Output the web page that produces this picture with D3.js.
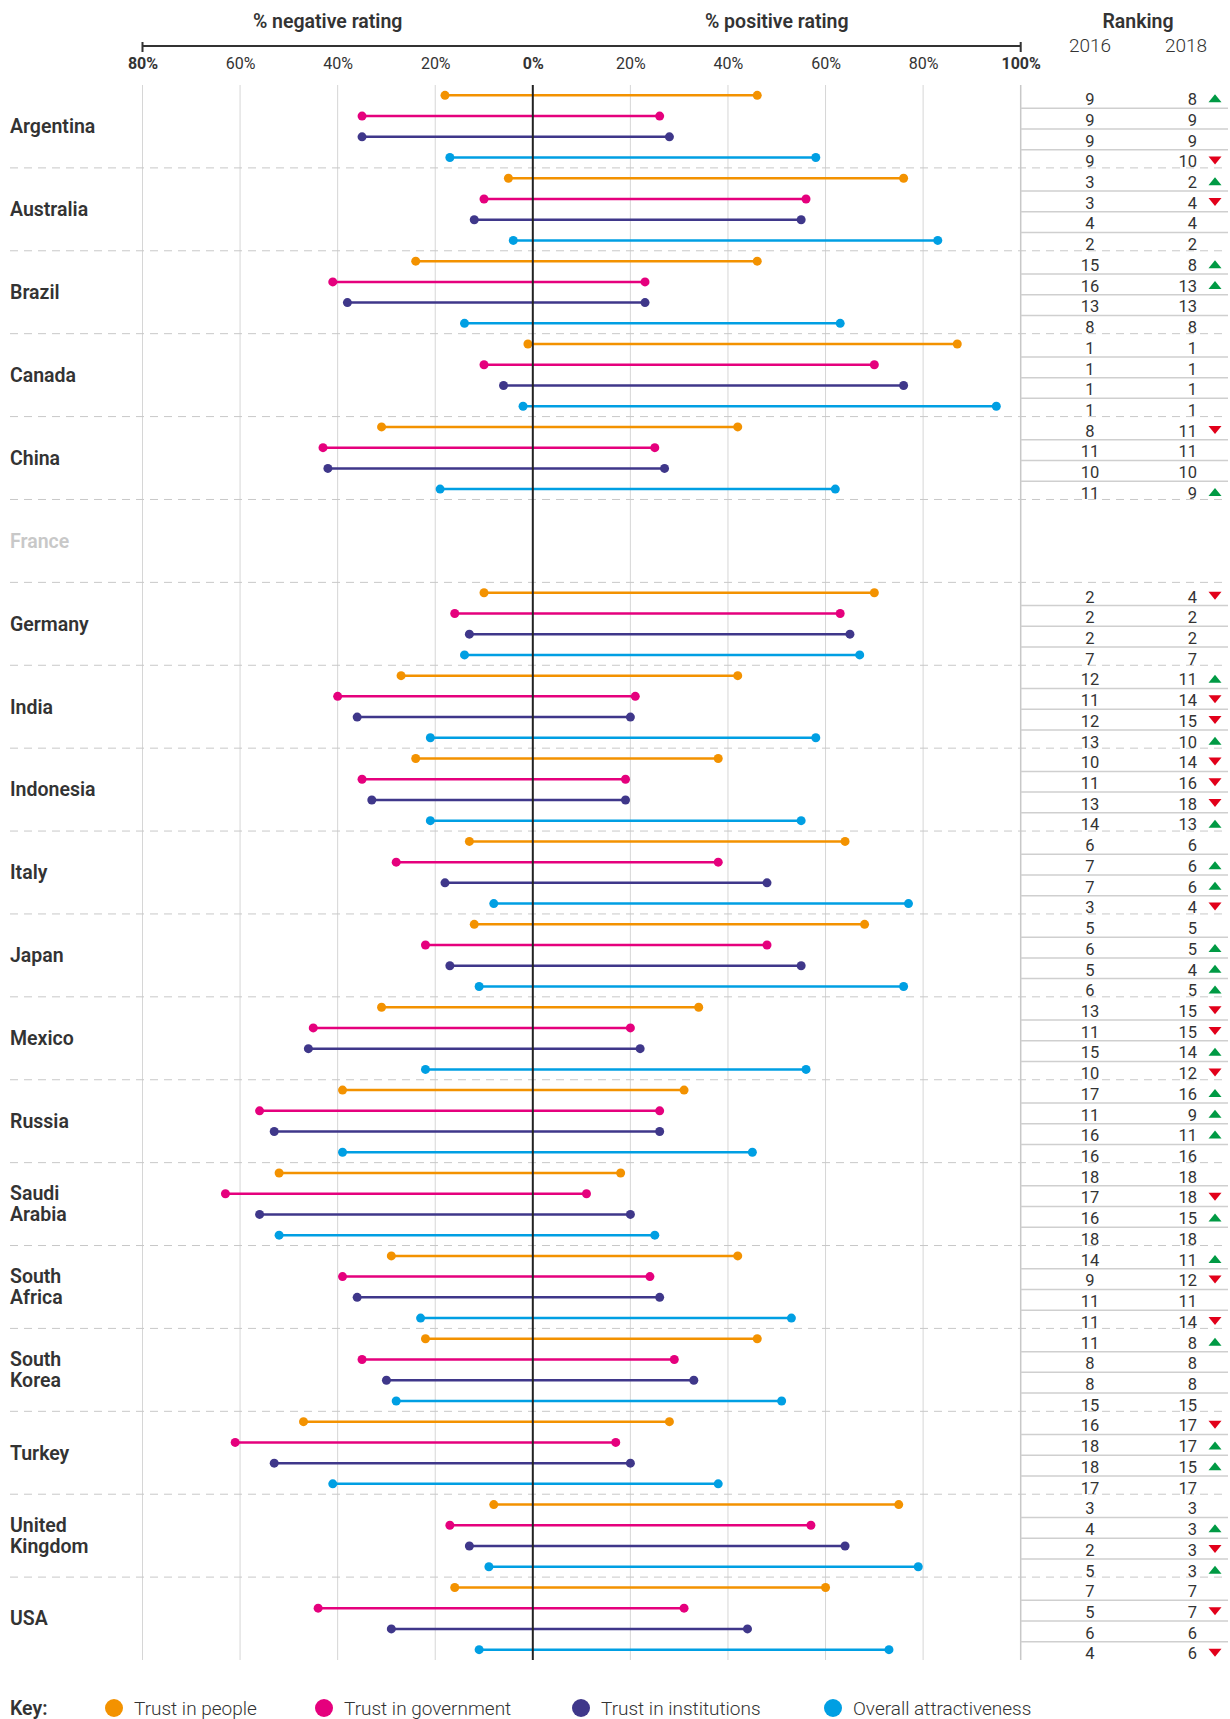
<!DOCTYPE html>
<meta charset="utf-8">
<style>

body {
  margin: 0;
  background: #fff;
}

text {
  font-family: Roboto, "Noto Sans", sans-serif;
  fill: #333;
}

.grid line {
  stroke: #d6d6d6;
}

.sep {
  stroke: #c8c8c8;
  stroke-dasharray: 8,6;
}

</style>
<body>
<script src="https://cdn.jsdelivr.net/npm/d3@7"></script>
<script>

var countries = ["Argentina", "Australia", "Brazil", "Canada", "China", "France",
    "Germany", "India", "Indonesia", "Italy", "Japan", "Mexico", "Russia",
    "Saudi Arabia", "South Africa", "South Korea", "Turkey", "United Kingdom", "USA"];

var measures = ["Trust in people", "Trust in government", "Trust in institutions", "Overall attractiveness"];
var colors = ["#f39200", "#e5007d", "#3f378a", "#009fe3"];

// % negative rating, one row per country, columns follow measures
var negative = [
  [18, 35, 35, 17], [5, 10, 12, 4], [24, 41, 38, 14], [1, 10, 6, 2], [31, 43, 42, 19],
  null,
  [10, 16, 13, 14], [27, 40, 36, 21], [24, 35, 33, 21], [13, 28, 18, 8], [12, 22, 17, 11],
  [31, 45, 46, 22], [39, 56, 53, 39], [52, 63, 56, 52], [29, 39, 36, 23], [22, 35, 30, 28],
  [47, 61, 53, 41], [8, 17, 13, 9], [16, 44, 29, 11]
];

// % positive rating
var positive = [
  [46, 26, 28, 58], [76, 56, 55, 83], [46, 23, 23, 63], [87, 70, 76, 95], [42, 25, 27, 62],
  null,
  [70, 63, 65, 67], [42, 21, 20, 58], [38, 19, 19, 55], [64, 38, 48, 77], [68, 48, 55, 76],
  [34, 20, 22, 56], [31, 26, 26, 45], [18, 11, 20, 25], [42, 24, 26, 53], [46, 29, 33, 51],
  [28, 17, 20, 38], [75, 57, 64, 79], [60, 31, 44, 73]
];

var rank2016 = [
  [9, 9, 9, 9], [3, 3, 4, 2], [15, 16, 13, 8], [1, 1, 1, 1], [8, 11, 10, 11],
  null,
  [2, 2, 2, 7], [12, 11, 12, 13], [10, 11, 13, 14], [6, 7, 7, 3], [5, 6, 5, 6],
  [13, 11, 15, 10], [17, 11, 16, 16], [18, 17, 16, 18], [14, 9, 11, 11], [11, 8, 8, 15],
  [16, 18, 18, 17], [3, 4, 2, 5], [7, 5, 6, 4]
];

var rank2018 = [
  [8, 9, 9, 10], [2, 4, 4, 2], [8, 13, 13, 8], [1, 1, 1, 1], [11, 11, 10, 9],
  null,
  [4, 2, 2, 7], [11, 14, 15, 10], [14, 16, 18, 13], [6, 6, 6, 4], [5, 5, 4, 5],
  [15, 15, 14, 12], [16, 9, 11, 16], [18, 18, 15, 18], [11, 12, 11, 14], [8, 8, 8, 15],
  [17, 17, 15, 17], [3, 3, 3, 3], [7, 7, 6, 6]
];

var axisTicks = [-80, -60, -40, -20, 0, 20, 40, 60, 80, 100];

var width = 1230,
    height = 1719;

var svg = d3.select("body").append("svg")
    .attr("width", width)
    .attr("height", height);

var x = d3.scaleLinear()
    .domain([-80, 100])
    .range([142.5, 1020.7]);

var y = d3.scaleBand()
    .domain(countries)
    .range([85, 1660]);

var rowH = y.bandwidth() / 4;

function rowY(c, i) { return y(c) + (i + 0.5) * rowH; }

// headers
svg.append("text")
    .attr("x", (x(-80) + x(0)) / 2 - 10)
    .attr("y", 28)
    .attr("text-anchor", "middle")
    .style("font-size", "19.5px")
    .style("font-weight", 600)
    .text("% negative rating");

svg.append("text")
    .attr("x", (x(0) + x(100)) / 2)
    .attr("y", 28)
    .attr("text-anchor", "middle")
    .style("font-size", "19.5px")
    .style("font-weight", 600)
    .text("% positive rating");

svg.append("text")
    .attr("x", 1138)
    .attr("y", 28)
    .attr("text-anchor", "middle")
    .style("font-size", "19.5px")
    .style("font-weight", 600)
    .text("Ranking");

[["2016", 1090], ["2018", 1186]].forEach(function(d) {
  svg.append("text")
      .attr("x", d[1])
      .attr("y", 52)
      .attr("text-anchor", "middle")
      .style("font-size", "19px")
      .style("font-weight", 300)
      .text(d[0]);
});

// top axis
var axis = svg.append("g")
    .attr("transform", "translate(0,46)")
    .call(d3.axisBottom(x)
        .tickValues(axisTicks)
        .tickSize(0)
        .tickSizeOuter(6)
        .tickPadding(12)
        .tickFormat(function(d) { return Math.abs(d) + "%"; }));

axis.select(".domain")
    .attr("stroke", "#333")
    .attr("stroke-width", 2)
    .attr("d", "M" + x(-80) + ",-4V6V0H" + x(100) + "V-4V6");

axis.selectAll(".tick text")
    .attr("fill", "#333")
    .style("font-family", "Roboto, sans-serif")
    .style("font-size", "16px")
    .style("font-weight", function(d) { return (d === -80 || d === 0 || d === 100) ? 700 : 400; });

// vertical grid
svg.append("g")
    .attr("class", "grid")
  .selectAll("line")
    .data(axisTicks.filter(function(d) { return d !== 0 && d !== 100; }))
  .enter().append("line")
    .attr("x1", function(d) { return x(d); })
    .attr("x2", function(d) { return x(d); })
    .attr("y1", 85)
    .attr("y2", 1660);

svg.append("line")
    .attr("x1", x(100))
    .attr("x2", x(100))
    .attr("y1", 85)
    .attr("y2", 1660)
    .attr("stroke", "#c8c8c8")
    .attr("stroke-width", 1.5);

// dashed separators between countries
svg.selectAll(".sep")
    .data(countries.slice(1))
  .enter().append("line")
    .attr("class", "sep")
    .attr("x1", 10)
    .attr("x2", 1228)
    .attr("y1", function(d) { return y(d); })
    .attr("y2", function(d) { return y(d); });

// country labels
var labels = svg.selectAll(".country")
    .data(countries)
  .enter().append("text")
    .attr("class", "country")
    .attr("x", 10)
    .style("font-size", "19.5px")
    .style("font-weight", 600)
    .style("fill", function(d, i) { return negative[i] ? "#333" : "#c8c8c8"; });

labels.each(function(d) {
  var words = d.split(" "),
      cy = y(d) + y.bandwidth() / 2,
      t = d3.select(this);
  words.forEach(function(w, k) {
    t.append("tspan")
        .attr("x", 10)
        .attr("y", cy + (k - (words.length - 1) / 2) * 21)
        .attr("dy", "0.35em")
        .text(w);
  });
});

// dumbbells
var rows = [];
countries.forEach(function(c, ci) {
  if (!negative[ci]) return;
  measures.forEach(function(m, mi) {
    rows.push({
      country: c,
      m: mi,
      neg: negative[ci][mi],
      pos: positive[ci][mi],
      r16: rank2016[ci][mi],
      r18: rank2018[ci][mi],
      y: rowY(c, mi)
    });
  });
});

var bells = svg.append("g").selectAll("g")
    .data(rows)
  .enter().append("g")
    .attr("fill", function(d) { return colors[d.m]; })
    .attr("stroke", function(d) { return colors[d.m]; });

bells.append("line")
    .attr("x1", function(d) { return x(-d.neg); })
    .attr("x2", function(d) { return x(d.pos); })
    .attr("y1", function(d) { return d.y; })
    .attr("y2", function(d) { return d.y; })
    .attr("stroke-width", 2.5);

bells.selectAll("circle")
    .data(function(d) { return [[-d.neg, d.y], [d.pos, d.y]]; })
  .enter().append("circle")
    .attr("cx", function(d) { return x(d[0]); })
    .attr("cy", function(d) { return d[1]; })
    .attr("r", 4.5)
    .attr("stroke", "none");

// zero line
svg.append("line")
    .attr("x1", x(0))
    .attr("x2", x(0))
    .attr("y1", 85)
    .attr("y2", 1660)
    .attr("stroke", "#222")
    .attr("stroke-width", 2);

// ranking table
svg.append("g").selectAll("line")
    .data(rows.filter(function(d) { return d.m > 0; }))
  .enter().append("line")
    .attr("x1", x(100))
    .attr("x2", 1228)
    .attr("y1", function(d) { return d.y - rowH / 2 + 2.5; })
    .attr("y2", function(d) { return d.y - rowH / 2 + 2.5; })
    .attr("stroke", "#cfcfcf")
    .attr("stroke-width", 1.5);

var cells = svg.append("g").selectAll("g")
    .data(rows)
  .enter().append("g")
    .attr("transform", function(d) { return "translate(0," + (d.y + 4) + ")"; });

cells.append("text")
    .attr("x", 1090)
    .attr("dy", "0.35em")
    .attr("text-anchor", "middle")
    .style("font-size", "16.5px")
    .style("font-weight", 400)
    .text(function(d) { return d.r16; });

cells.append("text")
    .attr("x", 1197)
    .attr("dy", "0.35em")
    .attr("text-anchor", "end")
    .style("font-size", "16.5px")
    .style("font-weight", 400)
    .text(function(d) { return d.r18; });

cells.filter(function(d) { return d.r18 !== d.r16; }).append("path")
    .attr("transform", "translate(1215,-1)")
    .attr("fill", function(d) { return d.r18 < d.r16 ? "#009a44" : "#e2001a"; })
    .attr("d", function(d) {
      return d.r18 < d.r16 ? "M-6.5,4L6.5,4L0,-4Z" : "M-6.5,-4L6.5,-4L0,4Z";
    });

// key
var key = svg.append("g")
    .attr("transform", "translate(0,1708)");

key.append("text")
    .attr("x", 10)
    .attr("dy", "0.35em")
    .style("font-size", "19.5px")
    .style("font-weight", 600)
    .text("Key:");

var keyX = [114, 324, 581, 833];

var item = key.selectAll(".item")
    .data(measures)
  .enter().append("g")
    .attr("class", "item")
    .attr("transform", function(d, i) { return "translate(" + keyX[i] + ",0)"; });

item.append("circle")
    .attr("r", 9)
    .attr("fill", function(d, i) { return colors[i]; });

item.append("text")
    .attr("x", 20)
    .attr("dy", "0.35em")
    .style("font-size", "19px")
    .style("font-weight", 300)
    .text(function(d) { return d; });

</script>
